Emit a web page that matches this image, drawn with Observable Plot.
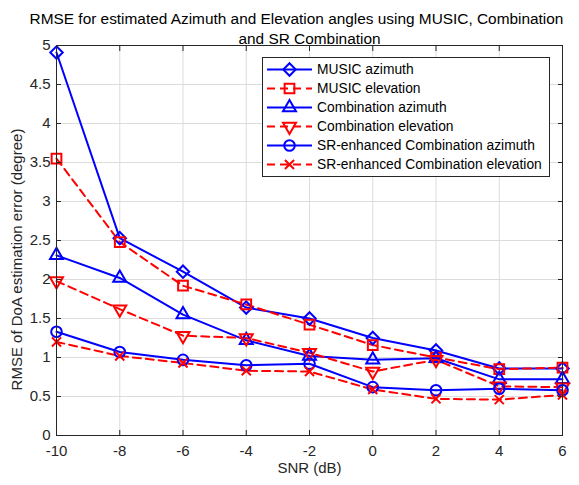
<!DOCTYPE html>
<html>
<head>
<meta charset="utf-8">
<script src="https://cdn.jsdelivr.net/npm/d3@7"></script>
<script src="https://cdn.jsdelivr.net/npm/@observablehq/plot@0.6"></script>
<style>
  html, body { margin: 0; padding: 0; background: #fff; }
  #chart { position: relative; width: 579px; height: 485px; }
</style>
</head>
<body>
<div id="chart"></div>
<script>
const snr = [-10, -8, -6, -4, -2, 0, 2, 4, 6];
const musicAz = [4.91, 2.53, 2.10, 1.64, 1.50, 1.25, 1.09, 0.86, 0.86];
const musicEl = [3.55, 2.48, 1.92, 1.68, 1.42, 1.16, 1.00, 0.85, 0.87];
const combAz  = [2.31, 2.02, 1.55, 1.22, 1.02, 0.97, 0.99, 0.72, 0.72];
const combEl  = [1.98, 1.62, 1.28, 1.25, 1.06, 0.82, 0.97, 0.63, 0.62];
const srAz    = [1.33, 1.07, 0.97, 0.90, 0.92, 0.62, 0.58, 0.60, 0.58];
const srEl    = [1.20, 1.02, 0.93, 0.83, 0.82, 0.59, 0.47, 0.46, 0.52];

const seriesNames = [
  "MUSIC azimuth",
  "MUSIC elevation",
  "Combination azimuth",
  "Combination elevation",
  "SR-enhanced Combination azimuth",
  "SR-enhanced Combination elevation"
];
const xTicks = [-10, -8, -6, -4, -2, 0, 2, 4, 6];
const yTicks = [0, 0.5, 1, 1.5, 2, 2.5, 3, 3.5, 4, 4.5, 5];
const titleLines = ["RMSE for estimated Azimuth and Elevation angles using MUSIC, Combination", "and SR Combination"];
const xLabel = "SNR (dB)";
const yLabel = "RMSE of DoA estimation error (degree)";

const BLUE = "#0000ff", RED = "#ff0000";
const styles = [
  {values: musicAz, color: BLUE, dash: null, symbol: "diamond2", r: 5.6, rotate: 0, d3sym: d3.symbolDiamond2},
  {values: musicEl, color: RED, dash: "8,5", symbol: "square2", r: 6.2, rotate: 0, d3sym: d3.symbolSquare2},
  {values: combAz, color: BLUE, dash: null, symbol: "triangle2", r: 6.2, rotate: 0, d3sym: d3.symbolTriangle2},
  {values: combEl, color: RED, dash: "8,5", symbol: "triangle2", r: 6.2, rotate: 180, d3sym: d3.symbolTriangle2},
  {values: srAz, color: BLUE, dash: null, symbol: "circle", r: 5.3, rotate: 0, d3sym: d3.symbolCircle},
  {values: srEl, color: RED, dash: "8,5", symbol: "times", r: 4.2, rotate: 0, d3sym: d3.symbolTimes}
];

const series = styles.map((s, i) => ({...s, name: seriesNames[i], data: snr.map((x, j) => ({x, y: s.values[j]}))}));

const dataMarks = [];
for (const s of series) {
  dataMarks.push(Plot.line(s.data, {x: "x", y: "y", stroke: s.color, strokeWidth: 2, strokeDasharray: s.dash, strokeLinejoin: "miter"}));
}
for (const s of series) {
  dataMarks.push(Plot.dot(s.data, {x: "x", y: "y", stroke: s.color, strokeWidth: 2, fill: "none", symbol: s.symbol, r: s.r, rotate: s.rotate}));
}

const plot = Plot.plot({
  width: 579,
  height: 485,
  marginLeft: 56,
  marginRight: 17,
  marginTop: 45,
  marginBottom: 50,
  x: {domain: [-10, 6]},
  y: {domain: [0, 5]},
  style: {fontFamily: "'Liberation Sans', Arial, sans-serif", fontSize: "15px", background: "#fff", color: "#262626"},
  marks: [
    Plot.gridX(xTicks, {stroke: "#dcdcdc", strokeOpacity: 1}),
    Plot.gridY(yTicks, {stroke: "#dcdcdc", strokeOpacity: 1}),
    ...dataMarks,
    Plot.frame({stroke: "#262626"}),
    Plot.axisX(xTicks, {anchor: "bottom", tickSize: -5, tickPadding: 15, tickFormat: d => String(d), fontSize: 15, label: null, stroke: "#262626"}),
    Plot.axisX(xTicks, {anchor: "top", tickSize: -5, tickFormat: () => "", label: null, stroke: "#262626"}),
    Plot.axisY(yTicks, {anchor: "left", tickSize: -5, tickPadding: 11, tickFormat: d => String(d), fontSize: 15, label: null, stroke: "#262626"}),
    Plot.axisY(yTicks, {anchor: "right", tickSize: -5, tickFormat: () => "", label: null, stroke: "#262626"}),
    Plot.text([xLabel], {frameAnchor: "bottom", dy: 37, text: d => d, fontSize: 15, fill: "#262626"}),
    Plot.text([yLabel], {frameAnchor: "left", textAnchor: "middle", dx: -39, dy: 19, rotate: -90, text: d => d, fontSize: 15, fill: "#262626"}),
    Plot.text([titleLines[0]], {frameAnchor: "top", dy: -32, dx: -13, text: d => d, fontSize: 15.4, fill: "#000"}),
    Plot.text([titleLines[1]], {frameAnchor: "top", dy: -12, text: d => d, fontSize: 15.4, fill: "#000"})
  ]
});

document.getElementById("chart").appendChild(plot);

// Legend inside the axes (top-right)
const svg = d3.select(plot);
const lg = svg.append("g").attr("font-family", "'Liberation Sans', Arial, sans-serif").attr("font-size", 13.8).attr("text-anchor", "start");
const bx = 262, by = 57, bw = 287, bh = 119;
lg.append("rect").attr("x", bx + 0.5).attr("y", by + 0.5).attr("width", bw).attr("height", bh)
  .attr("fill", "#fff").attr("stroke", "#262626").attr("stroke-width", 1);
series.forEach((s, i) => {
  const cy = by + 12.5 + i * 19;
  const row = lg.append("g");
  row.append("line").attr("x1", 267).attr("x2", 312).attr("y1", cy).attr("y2", cy)
    .attr("stroke", s.color).attr("stroke-width", 2).attr("stroke-dasharray", s.dash);
  row.append("path").attr("d", d3.symbol(s.d3sym, s.r * s.r * Math.PI)())
    .attr("transform", `translate(289.5,${cy}) rotate(${s.rotate})`)
    .attr("fill", "none").attr("stroke", s.color).attr("stroke-width", 2);
  row.append("text").attr("x", 317).attr("y", cy).attr("dy", "0.35em").attr("text-anchor", "start").attr("fill", "#000").text(s.name);
});
</script>
</body>
</html>
